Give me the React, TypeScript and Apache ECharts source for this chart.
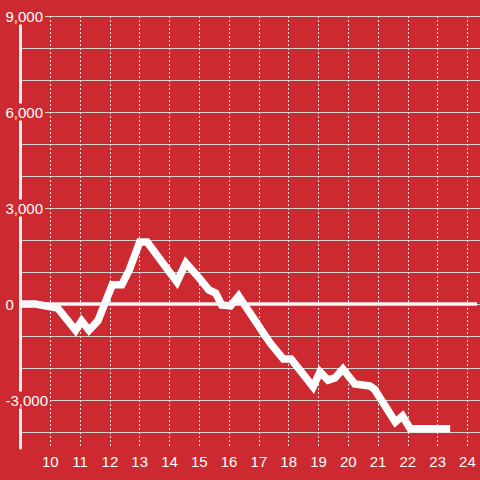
import React, { useEffect, useRef } from "react";
import * as echarts from "echarts";

const times = [9, 9.5, 10.25, 10.85, 11.05, 11.3, 11.6, 12.08, 12.4, 12.65, 13.0, 13.25, 14.25, 14.55, 15.0, 15.32, 15.55, 15.75, 16.05, 16.32, 17.08, 17.38, 17.82, 18.08, 18.82, 19.05, 19.32, 19.55, 19.82, 20.22, 20.72, 20.88, 21.58, 21.82, 22.08, 23.42];
const values = [0, 0, -130, -820, -530, -820, -520, 600, 600, 1060, 1940, 1940, 690, 1280, 810, 440, 340, -30, -60, 250, -810, -1220, -1720, -1720, -2590, -2120, -2380, -2310, -2030, -2500, -2560, -2660, -3690, -3500, -3900, -3900];
const xTickLabels = [10, 11, 12, 13, 14, 15, 16, 17, 18, 19, 20, 21, 22, 23, 24];
const yTickLabels = [-3000, 0, 3000, 6000, 9000];

const BG = "#cc2a30";
const FONT = "'Liberation Sans', Arial, sans-serif";

export default function App() {
  const ref = useRef<HTMLDivElement>(null);
  useEffect(() => {
    document.body.style.margin = "0";
    const chart = echarts.init(ref.current!, null, { renderer: "svg" });
    const data = times.map((t, i) => [t, values[i]]);
    chart.setOption({
      animation: false,
      backgroundColor: BG,
      grid: [
        { left: 20.5, right: 0, top: 16, bottom: 32 },
        { left: 20.5, right: 0, top: 16, bottom: 48 },
      ],
      xAxis: [
        {
          type: "value",
          gridIndex: 0,
          min: 9,
          max: 24.32,
          interval: 1,
          z: 0,
          axisLine: { show: false },
          axisTick: { show: false },
          splitLine: {
            show: true,
            showMinLine: false,
            showMaxLine: false,
            lineStyle: { color: "#e6e6e6", type: [2, 2], width: 1 },
          },
          axisLabel: {
            margin: 6,
            color: "#ffffff",
            fontSize: 15,
            fontFamily: FONT,
            formatter: (v: number) => (xTickLabels.includes(v) ? String(v) : ""),
          },
        },
        {
          type: "value",
          gridIndex: 1,
          min: 9,
          max: 24.32,
          show: false,
        },
      ],
      yAxis: [
        {
          type: "value",
          gridIndex: 0,
          min: -4500,
          max: 9000,
          interval: 1500,
          z: 1,
          axisLine: { show: true, lineStyle: { color: "#f2f2f2", width: 3 } },
          axisTick: { show: false },
          splitLine: { show: false },
          axisLabel: {
            align: "left",
            margin: 17,
            color: "#ffffff",
            fontSize: 15,
            fontFamily: FONT,
            backgroundColor: BG,
            padding: [1, 2, 1, 2],
            formatter: (v: number) =>
              yTickLabels.includes(v) ? v.toLocaleString("en-US") : "",
          },
        },
        {
          type: "value",
          gridIndex: 1,
          min: -4000,
          max: 9000,
          interval: 1000,
          z: 0,
          axisLine: { show: false },
          axisTick: { show: false },
          axisLabel: { show: false },
          splitLine: { show: true, lineStyle: { color: "#d2d2d2", width: 1 } },
        },
      ],
      series: [
        {
          type: "line",
          xAxisIndex: 0,
          yAxisIndex: 0,
          data,
          showSymbol: false,
          symbol: "none",
          lineStyle: { color: "#ffffff", width: 7.5, cap: "butt", join: "miter" },
          z: 3,
          markLine: {
            silent: true,
            symbol: "none",
            label: { show: false },
            lineStyle: { color: "#f5f5f5", width: 3.5, type: "solid" },
            data: [{ yAxis: 0 }],
          },
        },
      ],
    });
    return () => chart.dispose();
  }, []);
  return (
    <div
      ref={ref}
      style={{ position: "fixed", left: 0, top: 0, width: 480, height: 480 }}
    />
  );
}
